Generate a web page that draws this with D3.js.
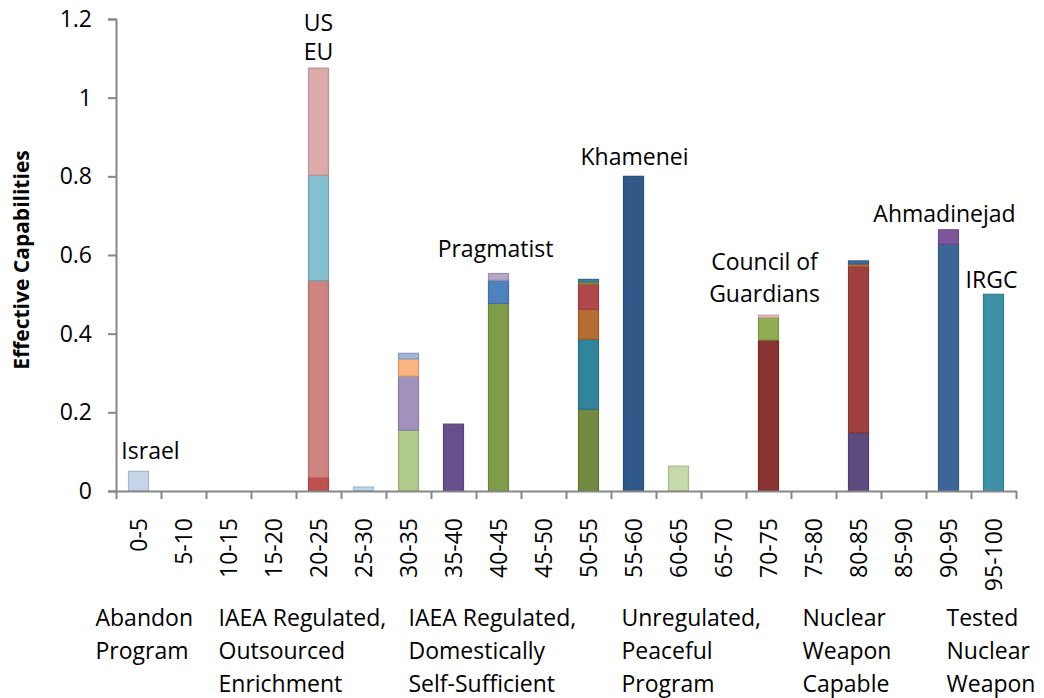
<!DOCTYPE html>
<html>
<head>
<meta charset="utf-8">
<script src="https://cdn.jsdelivr.net/npm/d3@7"></script>
<style>
  html, body { margin: 0; padding: 0; background: #fff; }
  svg text { font-family: "Open Sans", "Noto Sans", sans-serif; fill: #000; }
</style>
</head>
<body>
<svg id="chart" width="1044" height="698"></svg>
<script>
// Capability bins along the programme scale
const categories = ["0-5", "5-10", "10-15", "15-20", "20-25", "25-30", "30-35", "35-40", "40-45", "45-50",
                    "50-55", "55-60", "60-65", "65-70", "70-75", "75-80", "80-85", "85-90", "90-95", "95-100"];

// Stacked contributions per bin, bottom to top
const segmentValues = [
  [0.05],
  [], [], [],
  [0.034, 0.501, 0.268, 0.272],
  [0.01],
  [0.155, 0.137, 0.044, 0.014],
  [0.17],
  [0.477, 0.059, 0.017],
  [],
  [0.208, 0.178, 0.076, 0.064, 0.006, 0.006],
  [0.8],
  [0.063],
  [],
  [0.384, 0.057, 0.006],
  [],
  [0.148, 0.424, 0.005, 0.008],
  [],
  [0.627, 0.037],
  [0.5]
];

// Fill colour for each stacked segment
const segmentColors = [
  ["#c6d4e9"],
  [], [], [],
  ["#c0504d", "#d08482", "#85bfd2", "#dcaaaa"],
  ["#b9d8e6"],
  ["#b0ca8c", "#a092bd", "#fab47f", "#9fb6d8"],
  ["#654f8c"],
  ["#7f9c48", "#4f81bd", "#b6a7c9"],
  [],
  ["#72893f", "#31849b", "#b66d31", "#b0484a", "#8a8f45", "#3f7f9f"],
  ["#30598a"],
  ["#c6d9a8"],
  [],
  ["#883432", "#8fad52", "#e8bcba"],
  [],
  ["#5d4a7f", "#9f3f3e", "#d0782f", "#3e6ba0"],
  [],
  ["#3c6698", "#7b569b"],
  ["#3e90a7"]
];

// Actor names written above the bars
const actorLabels = [
  { cat: "0-5",   lines: ["Israel"] },
  { cat: "20-25", lines: ["US", "EU"] },
  { cat: "40-45", lines: ["Pragmatist"] },
  { cat: "55-60", lines: ["Khamenei"] },
  { cat: "70-75", lines: ["Council of", "Guardians"] },
  { cat: "90-95", lines: ["Ahmadinejad"] },
  { cat: "95-100", lines: ["IRGC"] }
];
// Placement of each actor label: horizontal shift (px) and baseline of each line (axis units)
const actorLabelPlacement = [
  { dx: 12,  v: [0.081] },
  { dx: 0,   v: [1.169, 1.096] },
  { dx: -3,  v: [0.594] },
  { dx: 1,   v: [0.829] },
  { dx: -4,  v: [0.562, 0.481] },
  { dx: -4,  v: [0.684] },
  { dx: -2,  v: [0.516] }
];

// Stage descriptions under the axis
const stageLabels = [
  { cat: "0-5",   lines: ["Abandon", "Program"] },
  { cat: "20-25", lines: ["IAEA Regulated,", "Outsourced", "Enrichment"] },
  { cat: "40-45", lines: ["IAEA Regulated,", "Domestically", "Self-Sufficient"] },
  { cat: "55-60", lines: ["Unregulated,", "Peaceful", "Program"] },
  { cat: "75-80", lines: ["Nuclear", "Weapon", "Capable"] },
  { cat: "90-95", lines: ["Tested", "Nuclear", "Weapon"] }
];
const stageLabelOffsets = [-43, -100, -90, -12, -11, -2];

const yTicks = [0, 0.2, 0.4, 0.6, 0.8, 1, 1.2];
const yTitle = "Effective Capabilities";

// ---- layout ----
const plotLeft = 116, plotRight = 1016, plotTop = 19, plotBottom = 491;
const axisColor = "#878787";
const fontSize = 23;

const svg = d3.select("#chart");

const x = d3.scaleBand()
  .domain(categories)
  .range([plotLeft, plotRight])
  .paddingInner(0.556)
  .paddingOuter(0.278);

// boundaries between bins, for the category tick marks
const xEdges = d3.scaleLinear().domain([0, categories.length]).range([plotLeft, plotRight]);

const y = d3.scaleLinear().domain([0, 1.2]).range([plotBottom, plotTop]);

// ---- stacked bars ----
const segments = [];
categories.forEach((c, i) => {
  const vals = segmentValues[i];
  const tops = d3.cumsum(vals);
  vals.forEach((v, j) => {
    segments.push({ cat: c, y0: tops[j] - v, y1: tops[j], color: segmentColors[i][j] });
  });
});

svg.append("g")
  .selectAll("rect")
  .data(segments)
  .join("rect")
  .attr("x", d => x(d.cat))
  .attr("width", x.bandwidth())
  .attr("y", d => y(d.y1))
  .attr("height", d => y(d.y0) - y(d.y1))
  .attr("fill", d => d.color)
  .attr("stroke", d => d3.color(d.color).darker(0.45))
  .attr("stroke-width", 1.2);

// ---- axes ----
const yAxis = d3.axisLeft(y)
  .tickValues(yTicks)
  .tickSize(8)
  .tickPadding(16)
  .tickFormat(d => String(+d.toFixed(1)));

const gy = svg.append("g")
  .attr("transform", `translate(${plotLeft},0)`)
  .call(yAxis);
gy.select(".domain").attr("stroke", axisColor).attr("stroke-width", 2);
gy.selectAll(".tick line").attr("stroke", axisColor).attr("stroke-width", 2);
gy.selectAll(".tick text")
  .attr("font-size", fontSize)
  .attr("font-family", "Open Sans")
  .attr("fill", "#000");

const xAxis = d3.axisBottom(xEdges)
  .tickValues(d3.range(categories.length + 1))
  .tickSize(8)
  .tickSizeOuter(0)
  .tickFormat("");

const gx = svg.append("g")
  .attr("transform", `translate(0,${plotBottom})`)
  .call(xAxis);
gx.select(".domain").attr("stroke", axisColor).attr("stroke-width", 2);
gx.selectAll(".tick line").attr("stroke", axisColor).attr("stroke-width", 2);

// rotated bin labels
svg.append("g")
  .selectAll("text")
  .data(categories)
  .join("text")
  .attr("transform", d => `translate(${x(d) + x.bandwidth() / 2},${plotBottom + 27}) rotate(-90)`)
  .attr("text-anchor", "end")
  .attr("dy", "0.35em")
  .attr("font-size", fontSize)
  .text(d => d);

// y axis title
svg.append("text")
  .attr("transform", `translate(29,260) rotate(-90)`)
  .attr("text-anchor", "middle")
  .attr("font-size", 21)
  .attr("font-weight", "bold")
  .text(yTitle);

// actor labels
actorLabels.forEach((lab, i) => {
  const p = actorLabelPlacement[i];
  const cx = x(lab.cat) + x.bandwidth() / 2 + p.dx;
  lab.lines.forEach((line, k) => {
    svg.append("text")
      .attr("x", cx)
      .attr("y", y(p.v[k]))
      .attr("text-anchor", "middle")
      .attr("font-size", fontSize)
      .text(line);
  });
});

// stage descriptions
const stageTop = 626, stageLine = 33;
stageLabels.forEach((lab, i) => {
  const lx = x(lab.cat) + x.bandwidth() / 2 + stageLabelOffsets[i];
  lab.lines.forEach((line, k) => {
    svg.append("text")
      .attr("x", lx)
      .attr("y", stageTop + k * stageLine)
      .attr("font-size", fontSize)
      .text(line);
  });
});
</script>
</body>
</html>
